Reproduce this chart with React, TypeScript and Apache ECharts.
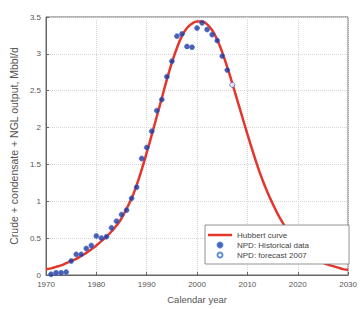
import React, { useEffect, useRef } from "react";
import * as echarts from "echarts";

const hubbertYears = [
  1970, 1971, 1972, 1973, 1974, 1975, 1976, 1977, 1978, 1979,
  1980, 1981, 1982, 1983, 1984, 1985, 1986, 1987, 1988, 1989,
  1990, 1991, 1992, 1993, 1994, 1995, 1996, 1997, 1998, 1999,
  2000, 2001, 2002, 2003, 2004, 2005, 2006, 2007, 2008, 2009,
  2010, 2011, 2012, 2013, 2014, 2015, 2016, 2017, 2018, 2019,
  2020, 2021, 2022, 2023, 2024, 2025, 2026, 2027, 2028, 2029, 2030,
];
const hubbertValues = [
  0.08, 0.09, 0.11, 0.13, 0.16, 0.19, 0.22, 0.26, 0.3, 0.35,
  0.4, 0.46, 0.52, 0.59, 0.67, 0.77, 0.9, 1.04, 1.22, 1.43,
  1.66, 1.9, 2.15, 2.4, 2.65, 2.88, 3.08, 3.24, 3.35, 3.41,
  3.44, 3.44, 3.4, 3.32, 3.19, 3.02, 2.82, 2.6, 2.37, 2.14,
  1.91, 1.69, 1.48, 1.29, 1.12, 0.97, 0.83, 0.71, 0.6, 0.51,
  0.43, 0.36, 0.3, 0.25, 0.21, 0.17, 0.14, 0.12, 0.1, 0.08, 0.07,
];

const histYears = [
  1971, 1972, 1973, 1974, 1975, 1976, 1977, 1978, 1979, 1980,
  1981, 1982, 1983, 1984, 1985, 1986, 1987, 1988, 1989, 1990,
  1991, 1992, 1993, 1994, 1995, 1996, 1997, 1998, 1999, 2000,
  2001, 2002, 2003, 2004, 2005, 2006,
];
const histValues = [
  0.01, 0.03, 0.03, 0.04, 0.19, 0.28, 0.28, 0.36, 0.4, 0.53,
  0.5, 0.52, 0.64, 0.73, 0.82, 0.88, 1.04, 1.19, 1.58, 1.73,
  1.95, 2.23, 2.38, 2.69, 2.9, 3.24, 3.27, 3.1, 3.09, 3.35,
  3.42, 3.33, 3.26, 3.18, 2.97, 2.78,
];

const forecastYears = [2007];
const forecastValues = [2.58];

const xTicks = { min: 1970, max: 2030, interval: 10 };
const yTicks = { min: 0, max: 3.5, interval: 0.5 };

const FONT = "Liberation Sans";
const LINE_ICON =
  "path://M0,0h0.01v0.01h-0.01z M0,1.25h24v2.5H0z M23.99,4.99h0.01v0.01h-0.01z";

export default function App() {
  const ref = useRef<HTMLDivElement>(null);
  useEffect(() => {
    if (!ref.current) return;
    const chart = echarts.init(ref.current, undefined, { renderer: "svg" });
    chart.setOption({
      animation: false,
      backgroundColor: "#ffffff",
      textStyle: { fontFamily: FONT },
      grid: {
        left: 45,
        right: 8,
        top: 17,
        bottom: 32,
        show: true,
        borderColor: "#666",
        borderWidth: 1,
        backgroundColor: "transparent",
      },
      legend: {
        orient: "vertical",
        left: 205,
        top: 225,
        padding: [6, 40, 5, 3],
        itemGap: 2,
        itemWidth: 24,
        itemHeight: 5,
        backgroundColor: "#fff",
        borderColor: "#777",
        borderWidth: 0.8,
        textStyle: { fontSize: 8, color: "#444", fontFamily: FONT },
        data: [
          { name: "Hubbert curve", icon: LINE_ICON, itemStyle: { color: "#e5362b" } },
          { name: "NPD: Historical data", icon: "circle" },
          { name: "NPD: forecast 2007", icon: "circle" },
        ],
      },
      xAxis: {
        type: "value",
        min: xTicks.min,
        max: xTicks.max,
        interval: xTicks.interval,
        name: "Calendar year",
        nameLocation: "middle",
        nameGap: 19,
        nameTextStyle: { fontSize: 9.5, color: "#555", fontFamily: FONT },
        axisLine: { show: true, lineStyle: { color: "#666" } },
        axisTick: { show: true, inside: true, length: 3, lineStyle: { color: "#666" } },
        axisLabel: {
          fontSize: 8,
          color: "#555",
          margin: 5,
          formatter: (v: number) => String(v),
        },
        splitLine: { show: true, lineStyle: { color: "#d6d6d6", type: "dotted", width: 1 } },
      },
      yAxis: {
        type: "value",
        min: yTicks.min,
        max: yTicks.max,
        interval: yTicks.interval,
        name: "Crude + condensate + NGL output, Mbbl/d",
        nameLocation: "middle",
        nameGap: 21,
        nameTextStyle: { fontSize: 10.5, color: "#555", fontFamily: FONT },
        axisLine: { show: true, lineStyle: { color: "#666" } },
        axisTick: { show: true, inside: true, length: 3, lineStyle: { color: "#666" } },
        axisLabel: { fontSize: 8, color: "#555", margin: 5 },
        splitLine: { show: true, lineStyle: { color: "#d6d6d6", type: "dotted", width: 1 } },
      },
      series: [
        {
          name: "Hubbert curve",
          type: "line",
          symbol: "none",
          showSymbol: false,
          smooth: true,
          z: 2,
          lineStyle: { color: "#e5362b", width: 2.5 },
          itemStyle: { color: "#e5362b" },
          data: hubbertYears.map((y, i) => [y, hubbertValues[i]]),
        },
        {
          name: "NPD: Historical data",
          type: "scatter",
          symbol: "circle",
          symbolSize: 5,
          z: 3,
          itemStyle: { color: "#24349c", borderColor: "#3b6fd0", borderWidth: 0.8 },
          data: histYears.map((y, i) => [y, histValues[i]]),
        },
        {
          name: "NPD: forecast 2007",
          type: "scatter",
          symbol: "circle",
          symbolSize: 5,
          z: 3,
          itemStyle: { color: "#ffffff", borderColor: "#3b6fd0", borderWidth: 1 },
          data: forecastYears.map((y, i) => [y, forecastValues[i]]),
        },
      ],
    });
    return () => chart.dispose();
  }, []);
  return (
    <div
      ref={ref}
      style={{ position: "fixed", left: 0, top: 0, width: 360, height: 309 }}
    />
  );
}
